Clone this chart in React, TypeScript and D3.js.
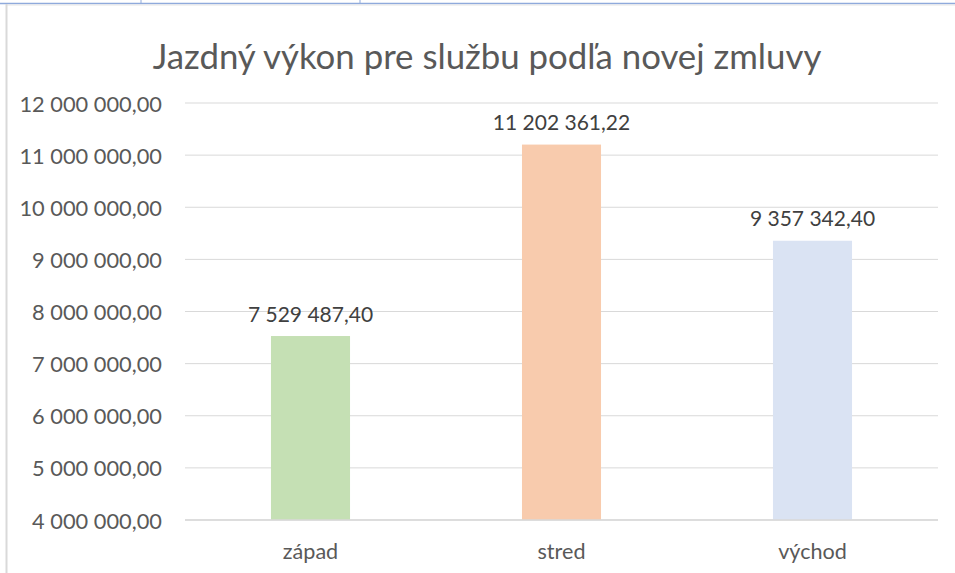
import * as d3 from "d3";
import { useEffect, useRef } from "react";

const categories = ["západ", "stred", "východ"];
const values = [7529487.4, 11202361.22, 9357342.4];
const barColors = ["#C5E0B4", "#F8CBAD", "#DAE3F3"];
const yTicks = [4000000, 5000000, 6000000, 7000000, 8000000, 9000000, 10000000, 11000000, 12000000];
const title = "Jazdný výkon pre službu podľa novej zmluvy";

const W = 955;
const H = 573;

export default function App() {
  const ref = useRef<SVGSVGElement>(null);

  useEffect(() => {
    const svg = d3.select(ref.current);
    svg.selectAll("*").remove();

    const fmt = d3
      .formatLocale({ decimal: ",", thousands: "\u00a0", grouping: [3], currency: ["", ""] })
      .format(",.2f");

    const font = "Lato, 'Open Sans', sans-serif";
    const textColor = "#595959";

    // sheet decoration round the chart
    svg.append("rect").attr("x", 0).attr("y", 0).attr("width", W).attr("height", H).attr("fill", "#fff");
    svg.append("line").attr("x1", 0).attr("x2", W).attr("y1", 3.5).attr("y2", 3.5)
      .attr("stroke", "#8FAADC").attr("stroke-width", 1.5);
    svg.append("line").attr("x1", 6).attr("x2", W).attr("y1", 5).attr("y2", 5)
      .attr("stroke", "#E6E6E6").attr("stroke-width", 1);
    svg.append("line").attr("x1", 6.5).attr("x2", 6.5).attr("y1", 4).attr("y2", H)
      .attr("stroke", "#D9D9D9").attr("stroke-width", 2);
    [141, 360].forEach((x) => {
      svg.append("line").attr("x1", x).attr("x2", x).attr("y1", 0).attr("y2", 3)
        .attr("stroke", "#8FAADC").attr("stroke-width", 1);
    });

    const x = d3.scaleBand().domain(categories).range([185, 938]).paddingInner(0.685).paddingOuter(0.3425);
    const y = d3.scaleLinear().domain([4000000, 12000000]).range([520, 103]);

    // gridlines
    svg.append("g")
      .selectAll("line")
      .data(yTicks)
      .join("line")
      .attr("x1", 185)
      .attr("x2", 938)
      .attr("y1", (d) => y(d))
      .attr("y2", (d) => y(d))
      .attr("stroke", "#D9D9D9")
      .attr("stroke-width", 1);

    // y labels
    svg.append("g")
      .selectAll("text")
      .data(yTicks)
      .join("text")
      .attr("x", 162)
      .attr("y", (d) => y(d))
      .attr("dominant-baseline", "central")
      .attr("text-anchor", "end")
      .attr("font-family", font)
      .attr("font-size", 21.8)
      .attr("fill", textColor)
      .text((d) => fmt(d));

    // bars
    svg.append("g")
      .selectAll("rect")
      .data(values)
      .join("rect")
      .attr("x", (d, i) => x(categories[i])!)
      .attr("y", (d) => y(d))
      .attr("width", x.bandwidth())
      .attr("height", (d) => y(4000000) - y(d))
      .attr("fill", (d, i) => barColors[i]);

    // axis line
    svg.append("line").attr("x1", 185).attr("x2", 938).attr("y1", y(4000000)).attr("y2", y(4000000))
      .attr("stroke", "#D9D9D9").attr("stroke-width", 1.5);

    // value labels
    svg.append("g")
      .selectAll("text")
      .data(values)
      .join("text")
      .attr("x", (d, i) => x(categories[i])! + x.bandwidth() / 2)
      .attr("y", (d) => y(d) - 23)
      .attr("dominant-baseline", "central")
      .attr("text-anchor", "middle")
      .attr("font-family", font)
      .attr("font-size", 21)
      .attr("fill", "#404040")
      .text((d) => fmt(d));

    // category labels
    svg.append("g")
      .selectAll("text")
      .data(categories)
      .join("text")
      .attr("x", (d) => x(d)! + x.bandwidth() / 2)
      .attr("y", 551)
      .attr("dominant-baseline", "central")
      .attr("text-anchor", "middle")
      .attr("font-family", font)
      .attr("font-size", 21.6)
      .attr("fill", textColor)
      .text((d) => d);

    // title
    svg.append("text")
      .attr("x", 487)
      .attr("y", 55)
      .attr("dominant-baseline", "central")
      .attr("text-anchor", "middle")
      .attr("font-family", font)
      .attr("font-size", 34.8)
      .attr("fill", textColor)
      .text(title);
  }, []);

  return (
    <svg
      ref={ref}
      width={W}
      height={H}
      style={{ position: "absolute", left: 0, top: 0, display: "block" }}
    />
  );
}
